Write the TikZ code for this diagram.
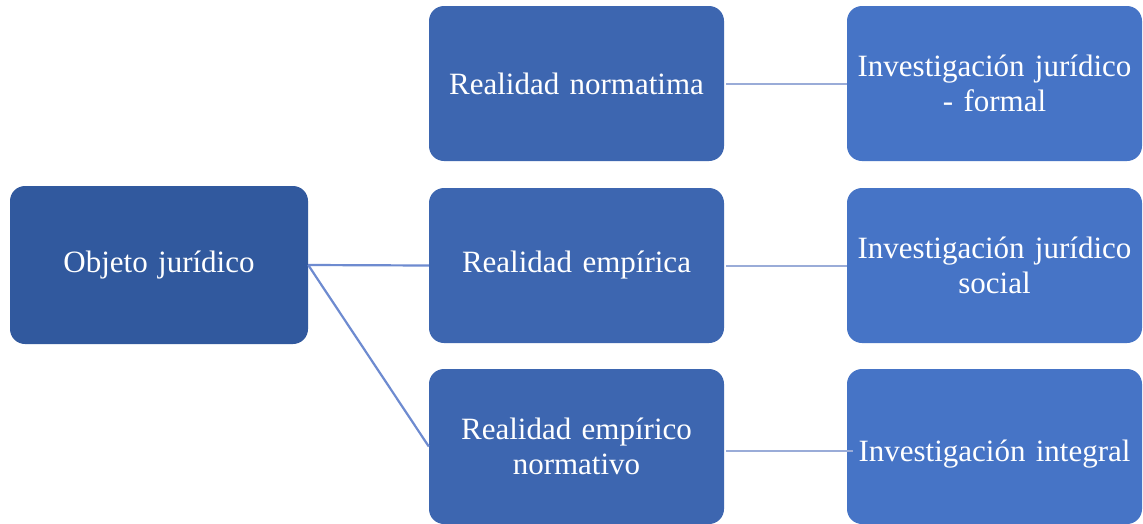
\documentclass[tikz,border=0pt]{standalone}
\usepackage{fontspec}
\setmainfont{Liberation Serif}
\definecolor{objblue}{HTML}{31599E}
\definecolor{realblue}{HTML}{3D66B0}
\definecolor{invblue}{HTML}{4674C6}
\definecolor{linkblue}{HTML}{6E8BD0}
\definecolor{linklight}{HTML}{9AACD8}
\tikzset{
  box/.style={rounded corners=15pt, minimum width=295pt, minimum height=155pt,
    text width=285pt, inner sep=0pt, align=center, text=white,
    font=\fontsize{31}{35}\selectfont},
  link/.style={draw=linkblue, line width=2.2pt},
  linklt/.style={draw=linklight, line width=2pt}
}

\begin{document}
\begin{tikzpicture}[x=1pt,y=-1pt]
    \clip (0,0) rectangle (1143,523);
    \fill[white] (0,0) rectangle (1143,523);
    \node[box, fill=objblue, minimum width=298pt, minimum height=158pt] (obj) at (159,265) {Objeto jurídico};
    \node[box, fill=realblue] (real1) at (576.5,83.5) {Realidad normatima};
    \node[box, fill=realblue] (real2) at (576.5,265.5) {Realidad empírica};
    \node[box, fill=realblue] (real3) at (576.5,446.5) {Realidad empírico\\normativo};
    \node[box, fill=invblue] (inv1) at (994.5,83.5) {Investigación jurídico\\- formal};
    \node[box, fill=invblue] (inv2) at (994.5,265.5) {Investigación jurídico\\social};
    \node[box, fill=invblue, text height=37pt] (inv3) at (994.5,446.5) {Investigación integral};
    \draw[link] (obj.east) -- (real2.west);
    \draw[link] (obj.east) -- (real3.west);
    \draw[linklt] ([xshift=2pt]real1.east) -- (inv1.west);
    \draw[linklt] ([xshift=2pt]real2.east) -- (inv2.west);
    \draw[linklt] ([xshift=2pt,yshift=-4pt]real3.east) -- ([xshift=6pt,yshift=-4pt]inv3.west);
\end{tikzpicture}
\end{document}
